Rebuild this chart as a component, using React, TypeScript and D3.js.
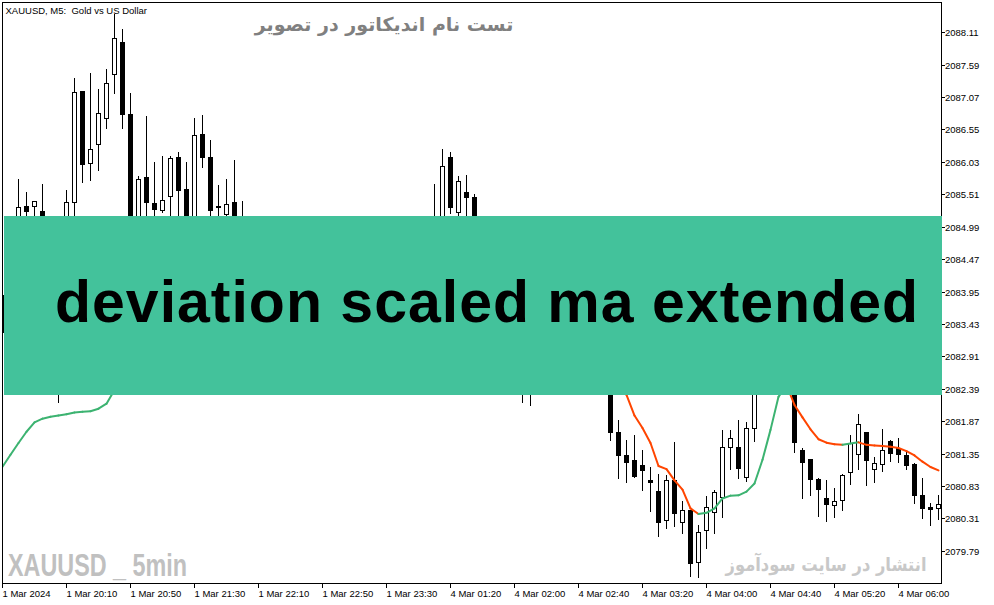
import React from "react";
import * as d3 from "d3";

// ---- data (XAUUSD M5) ----
const opens = [
  2083.89, 2083.30, 2084.60, 2085.32, 2085.32, 2085.24, 2084.70, 2084.30, 2083.30, 2085.38,
  2087.17, 2086.01, 2086.31, 2086.73, 2087.44, 2087.96, 2086.79, 2084.95, 2085.79, 2085.37,
  2085.25, 2085.48, 2086.11, 2085.60, 2084.85, 2086.48, 2086.11, 2085.32, 2085.19, 2085.38,
  2084.90, 2084.70, 2084.55, 2084.70, 2084.85, 2084.60, 2084.35, 2084.50, 2084.75, 2084.55,
  2084.40, 2084.60, 2084.80, 2084.65, 2084.45, 2084.60, 2084.70, 2084.55, 2084.65, 2084.85,
  2084.70, 2084.50, 2084.65, 2084.75, 2084.80, 2084.95, 2086.11, 2085.22, 2085.55, 2085.47,
  2084.90, 2084.55, 2084.25, 2083.85, 2083.45, 2083.00, 2082.70, 2083.05, 2083.35, 2083.60,
  2083.45, 2083.25, 2083.40, 2083.15, 2082.95, 2083.10, 2082.80, 2081.70, 2081.33, 2081.25,
  2081.17, 2080.93, 2080.75, 2080.28, 2080.93, 2080.25, 2080.45, 2079.61, 2080.12, 2080.41,
  2080.65, 2081.45, 2081.46, 2080.98, 2081.76, 2082.60, 2083.20, 2083.90, 2084.30, 2083.40,
  2081.41, 2081.26, 2080.94, 2080.63, 2080.52, 2080.60, 2081.05, 2081.34, 2081.69, 2081.10,
  2081.18, 2081.55, 2081.44, 2081.32, 2081.19, 2080.69, 2080.49, 2080.47,
];
const highs = [
  2084.05, 2083.65, 2085.76, 2085.54, 2085.40, 2085.68, 2084.95, 2084.55, 2085.58, 2087.38,
  2087.17, 2087.46, 2087.20, 2087.52, 2088.40, 2088.16, 2087.13, 2085.80, 2086.77, 2086.02,
  2086.12, 2086.12, 2086.19, 2086.03, 2086.74, 2086.78, 2086.38, 2085.66, 2085.76, 2086.06,
  2085.40, 2084.95, 2084.80, 2085.00, 2085.05, 2084.75, 2084.60, 2084.85, 2084.95, 2084.70,
  2084.65, 2084.90, 2085.00, 2084.80, 2084.70, 2084.85, 2084.90, 2084.75, 2084.95, 2085.05,
  2084.85, 2084.75, 2084.90, 2084.95, 2085.68, 2086.24, 2086.19, 2085.80, 2085.82, 2085.52,
  2085.05, 2084.80, 2084.50, 2084.10, 2083.70, 2083.35, 2083.20, 2083.50, 2083.75, 2083.90,
  2083.70, 2083.55, 2083.65, 2083.40, 2083.25, 2083.30, 2083.00, 2081.89, 2081.57, 2081.65,
  2081.40, 2081.13, 2081.02, 2081.00, 2081.54, 2080.59, 2080.45, 2080.20, 2080.67, 2080.76,
  2081.72, 2081.72, 2081.89, 2081.85, 2082.80, 2083.40, 2084.10, 2084.60, 2084.80, 2083.55,
  2081.44, 2081.26, 2080.96, 2080.93, 2080.79, 2081.02, 2081.65, 2081.99, 2081.70, 2081.29,
  2081.74, 2081.57, 2081.60, 2081.40, 2081.20, 2080.95, 2080.55, 2080.69,
];
const lows = [
  2083.15, 2082.95, 2084.40, 2084.90, 2084.95, 2084.50, 2084.10, 2082.17, 2083.00, 2085.00,
  2085.70, 2085.74, 2085.90, 2086.58, 2087.14, 2086.57, 2084.70, 2084.80, 2085.10, 2085.05,
  2085.23, 2085.10, 2085.10, 2084.80, 2084.70, 2085.94, 2085.00, 2085.00, 2084.95, 2084.80,
  2084.50, 2084.40, 2084.30, 2084.50, 2084.55, 2084.20, 2084.10, 2084.40, 2084.45, 2084.25,
  2084.15, 2084.50, 2084.55, 2084.35, 2084.30, 2084.45, 2084.50, 2084.35, 2084.55, 2084.60,
  2084.40, 2084.35, 2084.50, 2084.55, 2084.50, 2084.70, 2085.21, 2085.12, 2085.00, 2084.70,
  2084.40, 2084.10, 2083.70, 2083.30, 2082.80, 2082.17, 2082.13, 2082.90, 2083.10, 2083.30,
  2083.10, 2082.95, 2083.00, 2082.80, 2082.65, 2082.60, 2081.56, 2080.95, 2080.90, 2080.97,
  2080.77, 2080.43, 2080.02, 2080.15, 2080.19, 2080.08, 2079.39, 2079.37, 2079.83, 2080.07,
  2080.33, 2081.11, 2080.96, 2080.91, 2081.55, 2082.45, 2083.00, 2083.60, 2083.30, 2081.37,
  2080.63, 2080.68, 2080.35, 2080.27, 2080.33, 2080.45, 2080.86, 2081.10, 2080.85, 2080.90,
  2081.07, 2081.23, 2081.22, 2081.10, 2080.56, 2080.32, 2080.21, 2080.30,
];
const closes = [
  2083.30, 2083.55, 2085.30, 2085.24, 2085.40, 2084.70, 2084.30, 2083.20, 2085.39, 2087.15,
  2085.99, 2086.23, 2086.81, 2087.29, 2088.01, 2086.79, 2084.90, 2085.75, 2085.38, 2085.27,
  2085.42, 2086.09, 2085.58, 2084.90, 2086.46, 2086.11, 2085.26, 2085.30, 2085.35, 2084.95,
  2084.70, 2084.55, 2084.70, 2084.85, 2084.60, 2084.35, 2084.50, 2084.75, 2084.55, 2084.40,
  2084.60, 2084.80, 2084.65, 2084.45, 2084.60, 2084.70, 2084.55, 2084.65, 2084.85, 2084.70,
  2084.50, 2084.65, 2084.75, 2084.80, 2084.95, 2085.96, 2085.30, 2085.72, 2085.46, 2084.90,
  2084.55, 2084.25, 2083.85, 2083.45, 2083.00, 2082.70, 2083.05, 2083.35, 2083.60, 2083.45,
  2083.25, 2083.40, 2083.15, 2082.95, 2083.10, 2082.80, 2081.70, 2081.32, 2081.22, 2080.99,
  2081.08, 2080.89, 2080.26, 2080.93, 2080.39, 2080.44, 2079.60, 2080.09, 2080.49, 2080.73,
  2081.45, 2081.60, 2081.12, 2081.76, 2082.60, 2083.20, 2083.90, 2084.30, 2083.40, 2081.54,
  2081.22, 2080.94, 2080.78, 2080.54, 2080.59, 2081.00, 2081.52, 2081.82, 2081.24, 2081.20,
  2081.41, 2081.36, 2081.35, 2081.17, 2080.68, 2080.48, 2080.46, 2080.54,
];
// deviation scaled MA values
const maValues = [
  2081.14, 2081.33, 2081.52, 2081.70, 2081.85, 2081.91, 2081.94, 2081.96, 2081.98, 2082.01,
  2082.02, 2082.03, 2082.07, 2082.15, 2082.37, 2082.62, 2082.85, 2083.05, 2083.22, 2083.36,
  2083.48, 2083.58, 2083.66, 2083.72, 2083.78, 2083.83, 2083.86, 2083.88, 2083.90, 2083.91,
  2083.90, 2083.88, 2083.86, 2083.85, 2083.84, 2083.82, 2083.80, 2083.79, 2083.78, 2083.76,
  2083.75, 2083.74, 2083.73, 2083.72, 2083.71, 2083.70, 2083.69, 2083.68, 2083.67, 2083.66,
  2083.65, 2083.64, 2083.63, 2083.62, 2083.64, 2083.68, 2083.72, 2083.75, 2083.76, 2083.74,
  2083.70, 2083.64, 2083.56, 2083.47, 2083.38, 2083.30, 2083.24, 2083.20, 2083.17, 2083.14,
  2083.10, 2083.05, 2082.99, 2082.92, 2082.84, 2082.73, 2082.60, 2082.46, 2082.29, 2081.96,
  2081.76, 2081.52, 2081.15, 2081.10, 2080.92, 2080.77, 2080.47, 2080.38, 2080.40, 2080.47,
  2080.63, 2080.675, 2080.68, 2080.74, 2080.87, 2081.25, 2081.73, 2082.26, 2082.45, 2082.13,
  2081.93, 2081.74, 2081.58, 2081.525, 2081.50, 2081.49, 2081.51, 2081.53, 2081.49, 2081.48,
  2081.47, 2081.46, 2081.44, 2081.39, 2081.32, 2081.22, 2081.135, 2081.08,
];
const timeLabels = [
  "1 Mar 2024", "1 Mar 20:10", "1 Mar 20:50", "1 Mar 21:30", "1 Mar 22:10",
  "1 Mar 22:50", "1 Mar 23:30", "4 Mar 01:20", "4 Mar 02:00", "4 Mar 02:40",
  "4 Mar 03:20", "4 Mar 04:00", "4 Mar 04:40", "4 Mar 05:20", "4 Mar 06:00",
];
const priceLabels = [
  "2088.11", "2087.59", "2087.07", "2086.55", "2086.03", "2085.51", "2084.99", "2084.47",
  "2083.95", "2083.43", "2082.91", "2082.39", "2081.87", "2081.35", "2080.83", "2080.31", "2079.79",
];
const BARS_PER_LABEL = 8;

const W = 994;
const H = 605;
const PL = 2.5, PT = 2.5, PR = 941.5, PB = 583.5;

export default function App() {
  const n = opens.length;
  const x = d3.scaleLinear().domain([0, n - 1]).range([2.5, 2.5 + 8 * (n - 1)]);
  const y = d3.scaleLinear().domain([2079.79, 2088.11]).range([550.8, 32.2]);
  const axisFont = "'Liberation Sans', Arial, sans-serif";

  const candles = d3.range(n).map((i) => {
    const o = opens[i], c = closes[i], hi = highs[i], lo = lows[i];
    const cx = x(i);
    const yTop = Math.round(y(Math.max(o, c)));
    const yBot = Math.round(y(Math.min(o, c)));
    const bull = c >= o;
    return (
      <g key={i}>
        <line x1={cx} x2={cx} y1={Math.round(y(hi))} y2={Math.round(y(lo)) + 1} stroke="#000" strokeWidth={1} />
        {bull ? (
          <rect x={cx - 2} y={yTop + 0.5} width={4} height={Math.max(1, yBot - yTop)} fill="#fff" stroke="#000" strokeWidth={1} />
        ) : (
          <rect x={cx - 2.5} y={yTop} width={5} height={Math.max(2, yBot - yTop + 1)} fill="#000" />
        )}
      </g>
    );
  });

  const maSegs = d3.range(n - 1).map((i) => {
    const up = maValues[i + 1] >= maValues[i];
    return (
      <line key={i} x1={x(i)} y1={y(maValues[i])} x2={x(i + 1)} y2={y(maValues[i + 1])}
        stroke={up ? "#3CB371" : "#FF4500"} strokeWidth={2} strokeLinecap="round" />
    );
  });

  const priceTicks = priceLabels.map((lab) => {
    const yy = Math.round(y(+lab)) + 0.5;
    return (
      <g key={lab}>
        <line x1={PR} x2={PR + 3.5} y1={yy} y2={yy} stroke="#000" />
        <text x={PR + 3.5} y={yy + 3.5} fontSize={9.5} fontFamily={axisFont} fill="#000">{lab}</text>
      </g>
    );
  });

  const timeTicks = timeLabels.map((lab, j) => {
    const xx = x(j * BARS_PER_LABEL);
    return (
      <g key={lab}>
        <line x1={xx} x2={xx} y1={PB} y2={PB + 4.5} stroke="#000" />
        <text x={xx} y={596.5} fontSize={9.5} fontFamily={axisFont} fill="#000">{lab}</text>
      </g>
    );
  });

  return (
    <svg width={W} height={H} viewBox={`0 0 ${W} ${H}`}
      style={{ position: "absolute", left: 0, top: 0, display: "block", background: "#fff" }}>
      <defs>
        <clipPath id="plotClip">
          <rect x={3} y={3} width={938} height={580} />
        </clipPath>
      </defs>
      <rect x={0} y={0} width={W} height={H} fill="#fff" />
      <g clipPath="url(#plotClip)" shapeRendering="crispEdges">{candles}</g>
      <g clipPath="url(#plotClip)">{maSegs}</g>
      <path d={`M${PL},${PT}H${PR}V${PB}H${PL}Z`} fill="none" stroke="#000" strokeWidth={1} shapeRendering="crispEdges" />
      <g shapeRendering="crispEdges">{priceTicks}</g>
      <g shapeRendering="crispEdges">{timeTicks}</g>

      <text x={5.5} y={13.5} fontSize={9.5} fontFamily={axisFont} fill="#000" xmlSpace="preserve">XAUUSD, M5:  Gold vs US Dollar</text>

      <text x={384} y={31} fontSize={19} fontWeight="bold" fontFamily="'DejaVu Sans', sans-serif" fill="#808080"
        textAnchor="middle" direction="rtl">تست نام اندیکاتور در تصویر</text>

      <rect x={4} y={216} width={938} height={179} fill="#43C29B" />
      <text x={55} y={322} fontSize={59} fontWeight="bold" fontFamily="'Liberation Sans', Arial, sans-serif"
        fill="#000" textLength={863} lengthAdjust="spacing">deviation scaled ma extended</text>

      <text x={8} y={576} fontSize={31} fontWeight="bold" fontFamily="'Liberation Sans Narrow', 'Liberation Sans', Arial, sans-serif"
        fill="#C0C0C0" textLength={179} lengthAdjust="spacingAndGlyphs">XAUUSD _ 5min</text>

      <text transform="translate(826,571) scale(0.86,1)" x={0} y={0} fontSize={19} fontWeight="bold"
        fontFamily="'DejaVu Sans', sans-serif" fill="#C8C8C8"
        textAnchor="middle" direction="rtl">انتشار در سایت سودآموز</text>
    </svg>
  );
}
